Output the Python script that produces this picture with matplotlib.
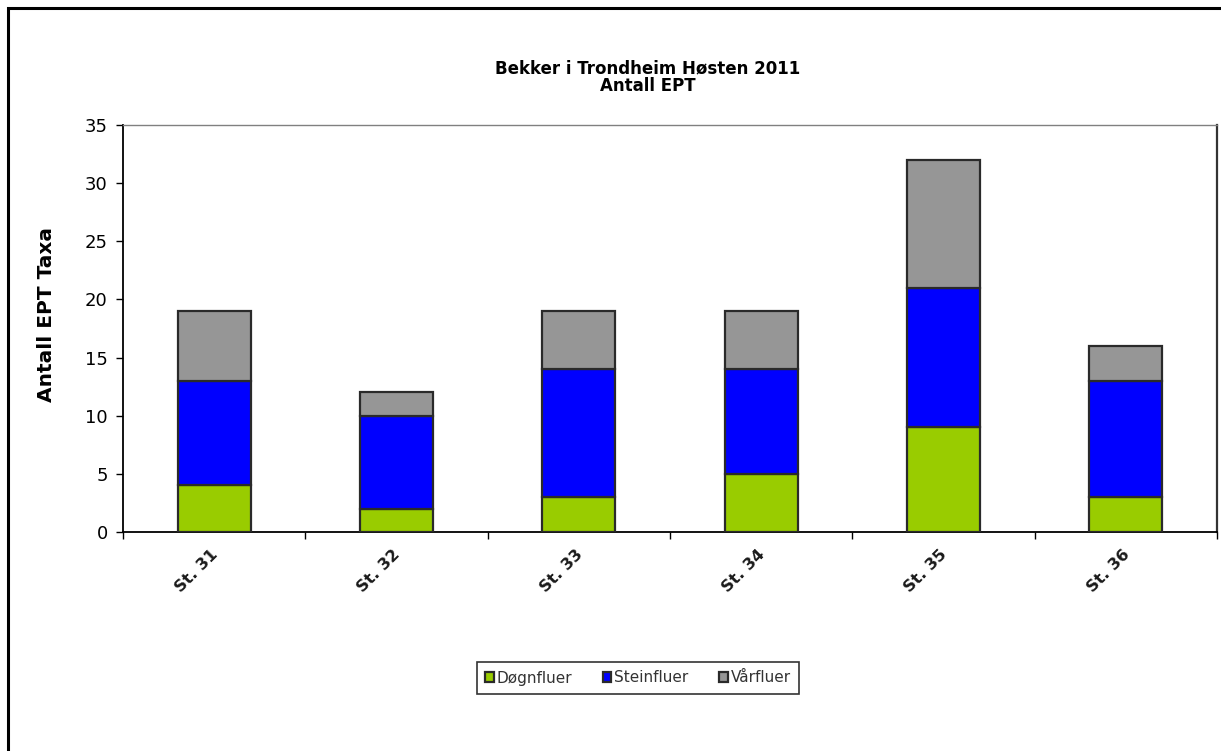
import matplotlib
matplotlib.use("Agg")
import matplotlib.pyplot as plt
import numpy as np
from matplotlib.patches import Rectangle
from matplotlib.transforms import ScaledTranslation

plt.rcParams['font.family'] = ['DejaVu Sans']

stations = ["St. 31", "St. 32", "St. 33", "St. 34", "St. 35", "St. 36"]
dognfluer = [4, 2, 3, 5, 9, 3]
steinfluer = [9, 8, 11, 9, 12, 10]
varfluer = [6, 2, 5, 5, 11, 3]
series_names = ["Døgnfluer", "Steinfluer", "Vårfluer"]
colors = ["#99CC00", "#0000FF", "#969696"]

W, H = 1221, 751
fig = plt.figure(figsize=(W / 100, H / 100), dpi=100)

# outer frame
fig.patches.append(Rectangle((8 / W, -0.1), 1.2, 1 - 8 / H + 0.1, transform=fig.transFigure,
                             fill=False, edgecolor="black", linewidth=2.2, zorder=0))

ax = fig.add_axes([123 / W, 1 - 532 / H, (1217 - 123) / W, (532 - 125) / H])

x = np.arange(len(stations))
bottom = np.zeros(len(stations))
for vals, name, c in zip([dognfluer, steinfluer, varfluer], series_names, colors):
    ax.bar(x, vals, width=0.4, bottom=bottom, color=c, edgecolor="#2a2a2a",
           linewidth=1.6, label=name, zorder=3)
    bottom += np.array(vals)

ax.set_xlim(-0.5, len(stations) - 0.5)
ax.set_ylim(0, 35)
ax.set_yticks(np.arange(0, 36, 5))
ax.tick_params(axis='y', labelsize=13, length=5, width=1, direction='out', pad=6)
ax.set_xticks(x)
ax.set_xticklabels(stations, rotation=45, ha='right', rotation_mode='anchor',
                   fontsize=11.5, fontweight='bold', color='#1a1a1a')
ax.tick_params(axis='x', length=0, pad=11)
offset = ScaledTranslation(-4 / 100, 0, fig.dpi_scale_trans)
for lbl in ax.get_xticklabels():
    lbl.set_transform(lbl.get_transform() + offset)
ax.set_xticks(np.arange(-0.5, len(stations)), minor=True)
ax.tick_params(axis='x', which='minor', length=5, width=1, direction='out')

fig.text(47 / W, 1 - 315 / H, "Antall EPT Taxa", rotation=90, ha='center', va='center',
         fontsize=14.5, fontweight='bold')

for s in ['left', 'bottom']:
    ax.spines[s].set_linewidth(1.3)
    ax.spines[s].set_color('black')
ax.spines['top'].set_linewidth(1.0)
ax.spines['top'].set_color('#808080')
ax.spines['right'].set_linewidth(1.6)
ax.spines['right'].set_color('#333333')

fig.text(648 / W, 1 - 68 / H, "Bekker i Trondheim Høsten 2011",
         ha='center', va='center', fontsize=12, fontweight='bold')
fig.text(648 / W, 1 - 86 / H, "Antall EPT",
         ha='center', va='center', fontsize=12, fontweight='bold')

leg = fig.legend(loc='center', bbox_to_anchor=(638 / W, 1 - 678 / H), ncol=3,
                 fontsize=11, frameon=True, fancybox=False, handlelength=0.55,
                 handleheight=0.55, handletextpad=0.2, columnspacing=2.0,
                 borderpad=0.55, borderaxespad=0)
leg.get_frame().set_edgecolor('black')
leg.get_frame().set_linewidth(1.2)
for t in leg.get_texts():
    t.set_color('#333333')

fig.savefig("out.png", dpi=100)
